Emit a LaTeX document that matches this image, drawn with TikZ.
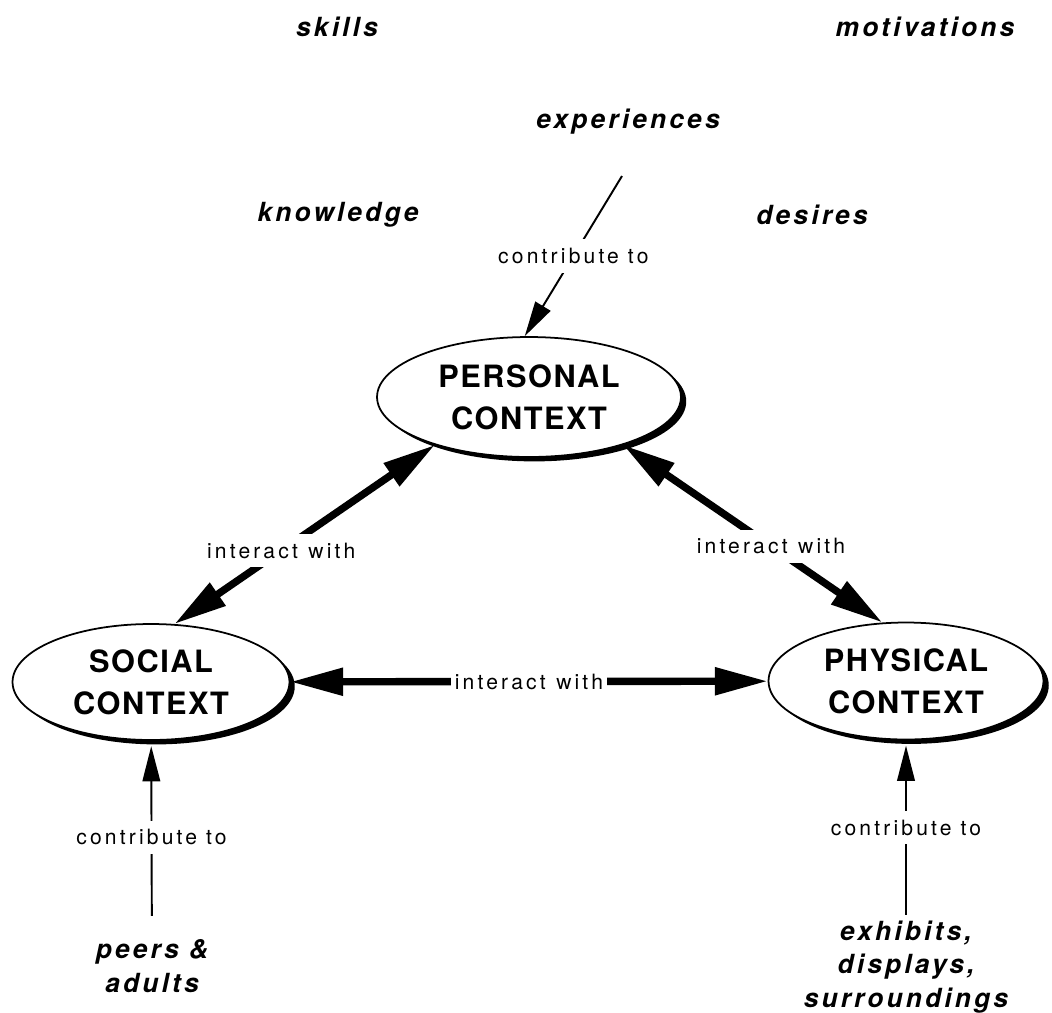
\documentclass[tikz,border=0pt]{standalone}
\usepackage{fontspec}
\setmainfont{TeX Gyre Heros}
\newfontfamily\ctxfont[LetterSpace=5]{TeX Gyre Heros}
\newfontfamily\termfont[LetterSpace=12]{TeX Gyre Heros}
\newfontfamily\lblfont[LetterSpace=15]{TeX Gyre Heros}
\usetikzlibrary{arrows.meta,shadows,shapes.geometric}
\def\gap{\hspace{6pt}}

\tikzset{
	context/.style={ellipse, draw, line width=1pt, fill=white, inner sep=0pt, align=center,
		font=\ctxfont\bfseries\fontsize{17.5}{24}\selectfont,
		drop shadow={shadow xshift=3pt, shadow yshift=-2.5pt, fill=black, opacity=1}},
	term/.style={align=center, font=\termfont\bfseries\itshape\fontsize{15}{19}\selectfont},
	link/.style={fill=white, inner xsep=2pt, inner ysep=5pt, font=\lblfont\fontsize{12}{14}\selectfont},
	interact/.style={line width=4.2pt, {Triangle[length=30pt,width=15pt]}-{Triangle[length=30pt,width=15pt]}},
	feeds/.style={line width=1.1pt, -{Triangle[length=20pt,width=10pt]}}
}

\begin{document}
\begin{tikzpicture}[x=0.02cm, y=-0.02cm]
		%%%%% START %%%%%
		\useasboundingbox (0, 0) rectangle (1052, 1012);
		
		\node[term] (skills) at (337, 27) {skills};
		\node[term] (motiv) at (925, 27) {motivations};
		\node[term] (exper) at (628, 122) {experiences};
		\node[term] (knowl) at (338, 215) {knowledge};
		\node[term] (desires) at (812, 215) {desires};
		
		\node[context, minimum width=6.08cm, minimum height=2.4cm] (per) at (529, 397) {PERSONAL\\CONTEXT};
		\node[context, minimum width=5.54cm, minimum height=2.32cm] (soc) at (151, 682) {SOCIAL\\CONTEXT};
		\node[context, minimum width=5.5cm, minimum height=2.34cm] (phy) at (906, 681) {PHYSICAL\\CONTEXT};
		
		\node[term] (peers) at (152, 966) {peers \&\\adults};
		\node[term] (exhib) at (906, 967) {exhibits,\\displays,\\surroundings};
		
		\coordinate (src) at (622, 176);
		\draw[feeds] (src) -- node[link] {contribute to} (per.94);
		\draw[feeds, shorten <=10pt, shorten >=3pt] (peers) -- node[link] {contribute to} (soc);
		\draw[feeds, shorten >=3pt] (exhib) -- node[link] {contribute to} (phy);
		
		\draw[interact] (soc.68) -- node[link, pos=0.41] {interact\gap with} (per.207);
		\draw[interact] (per.333) -- node[link, pos=0.57] {interact\gap with} (phy.112);
		\draw[interact] (soc) -- node[link] {interact\gap with} (phy);
		%%%%% END %%%%%
\end{tikzpicture}
\end{document}
